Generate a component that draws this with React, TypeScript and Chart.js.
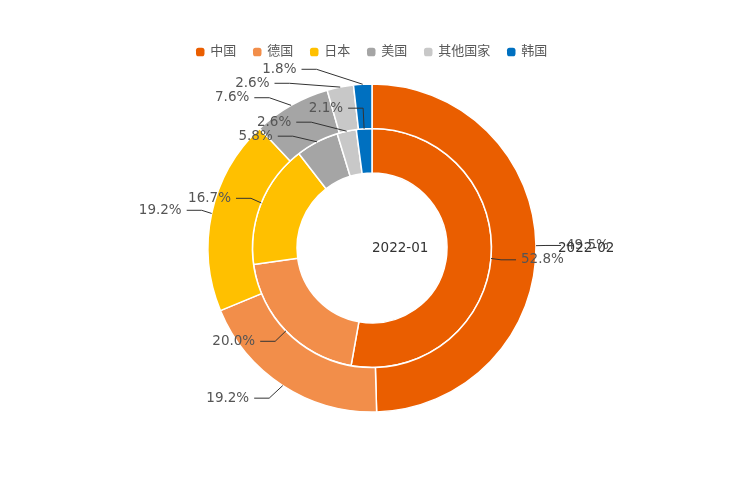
import React, { useEffect, useRef } from 'react';
import { Chart, registerables } from 'chart.js';

Chart.register(...registerables);

// ---- data ----
const categories = ['中国', '德国', '日本', '美国', '其他国家', '韩国'];
const share2022_01 = [52.8, 20.0, 16.7, 5.8, 2.6, 2.1]; // inner ring
const share2022_02 = [49.5, 19.2, 19.2, 7.6, 2.6, 1.8]; // outer ring
const innerName = '2022-01';
const outerName = '2022-02';
const colors = ['#EA5E00', '#F28E4A', '#FFC000', '#A5A5A5', '#C8C8C8', '#0070C0'];

const FONT = "'DejaVu Sans', 'Noto Sans CJK SC', sans-serif";
const LABEL_FONT_SIZE = 13.5;
const LINE_LEN = 15;
const LINE_LEN2 = 15;
const LABEL_DIST = 5;
const LABEL_H = 14;

type Item = {
  x: number;
  y: number;
  height: number;
  len: number;
  len2: number;
  pts: number[][];
  left: boolean;
  text: string;
};

function adjustSingleSide(list: Item[], cx: number, cy: number, r: number, dir: number, viewTop: number, viewHeight: number) {
  list.sort((a, b) => a.y - b.y);
  const shiftUp = (end: number, delta: number) => {
    for (let j = end; j >= 0; j--) {
      if (list[j].y - delta < viewTop) break;
      list[j].y -= delta;
      if (j > 0 && list[j].y > list[j - 1].y + list[j - 1].height) break;
    }
  };
  const shiftDown = (start: number, end: number, delta: number) => {
    for (let j = start; j < end; j++) {
      if (list[j].y + delta > viewTop + viewHeight) break;
      list[j].y += delta;
      if (j > start && j + 1 < end && list[j + 1].y > list[j].y + list[j].height) {
        shiftUp(j, delta / 2);
        return;
      }
    }
    shiftUp(end - 1, delta / 2);
  };
  const changeX = (sub: Item[], isDown: boolean) => {
    let last = isDown ? Number.MAX_VALUE : 0;
    for (const it of sub) {
      const dy = Math.abs(it.y - cy);
      const R = r + it.len + it.len2;
      let dx = dy < r + it.len ? Math.sqrt(R * R - dy * dy) : Math.abs(it.x - cx);
      if (isDown && dx >= last) dx = last - 10;
      if (!isDown && dx <= last) dx = last + 10;
      it.x = cx + dx * dir;
      last = dx;
    }
  };
  let lastY = 0;
  for (let i = 0; i < list.length; i++) {
    const delta = list[i].y - lastY;
    if (delta < 0) shiftDown(i, list.length, -delta);
    lastY = list[i].y + list[i].height;
  }
  if (viewHeight - lastY < 0) shiftUp(list.length - 1, lastY - viewHeight);
  changeX(list.filter((it) => it.y < cy), false);
  changeX(list.filter((it) => it.y >= cy), true);
}

const pieLabelPlugin = {
  id: 'pieLabels',
  afterDatasetsDraw(chart: any) {
    const ctx: CanvasRenderingContext2D = chart.ctx;
    let centerY = 0;
    chart.data.datasets.forEach((ds: any, di: number) => {
      const meta = chart.getDatasetMeta(di);
      const items: Item[] = [];
      let cx = 0, cy = 0, r = 0;
      meta.data.forEach((arc: any, i: number) => {
        const p = arc.getProps(['x', 'y', 'startAngle', 'endAngle', 'outerRadius'], true);
        cx = p.x; cy = p.y; r = p.outerRadius;
        const mid = (p.startAngle + p.endAngle) / 2;
        const dx = Math.cos(mid);
        const dy = Math.sin(mid);
        const x1 = cx + r * dx, y1 = cy + r * dy;
        const x2 = x1 + dx * LINE_LEN, y2 = y1 + dy * LINE_LEN;
        const x3 = x2 + (dx < 0 ? -1 : 1) * LINE_LEN2, y3 = y2;
        items.push({
          x: x3 + (dx < 0 ? -LABEL_DIST : LABEL_DIST),
          y: y3,
          height: LABEL_H,
          len: LINE_LEN,
          len2: LINE_LEN2,
          pts: [[x1, y1], [x2, y2], [x3, y3]],
          left: dx < 0,
          text: Number(ds.data[i]).toFixed(1) + '%',
        });
      });
      centerY = cy;
      const leftList = items.filter((it) => it.x < cx);
      const rightList = items.filter((it) => it.x >= cx);
      adjustSingleSide(rightList, cx, cy, r, 1, 0, chart.height);
      adjustSingleSide(leftList, cx, cy, r, -1, 0, chart.height);
      for (const it of items) {
        const dist = it.pts[1][0] - it.pts[2][0];
        it.pts[2][0] = it.x < cx ? it.x + LABEL_DIST : it.x - LABEL_DIST;
        it.pts[1][0] = it.pts[2][0] + dist;
        it.pts[1][1] = it.pts[2][1] = it.y;
      }
      ctx.save();
      ctx.strokeStyle = '#333333';
      ctx.lineWidth = 1;
      for (const it of items) {
        ctx.beginPath();
        ctx.moveTo(it.pts[0][0], it.pts[0][1]);
        ctx.lineTo(it.pts[1][0], it.pts[1][1]);
        ctx.lineTo(it.pts[2][0], it.pts[2][1]);
        ctx.stroke();
      }
      ctx.font = `${LABEL_FONT_SIZE}px ${FONT}`;
      ctx.fillStyle = '#555555';
      ctx.textBaseline = 'middle';
      for (const it of items) {
        ctx.textAlign = it.x < cx ? 'right' : 'left';
        ctx.fillText(it.text, it.x, it.y);
      }
      ctx.restore();
    });
    // ring titles
    ctx.save();
    ctx.font = `${LABEL_FONT_SIZE}px ${FONT}`;
    ctx.fillStyle = '#333333';
    ctx.textBaseline = 'middle';
    ctx.textAlign = 'left';
    ctx.fillText(innerName, chart.width * 0.5, centerY);
    ctx.fillText(outerName, chart.width * 0.75, centerY);
    ctx.restore();
  },
};

export default function App() {
  const ref = useRef<HTMLCanvasElement>(null);
  useEffect(() => {
    document.body.style.margin = '0';
    const canvas = ref.current;
    if (!canvas) return;
    Chart.defaults.font.family = FONT;
    const chart = new Chart(canvas, {
      type: 'doughnut',
      data: {
        labels: categories,
        datasets: [
          {
            label: outerName,
            data: share2022_02,
            backgroundColor: colors,
            borderColor: '#ffffff',
            borderWidth: 1.5,
          },
          {
            label: innerName,
            data: share2022_01,
            backgroundColor: colors,
            borderColor: '#ffffff',
            borderWidth: 1.5,
          },
        ],
      },
      options: {
        responsive: false,
        animation: false,
        events: [],
        radius: 164,
        cutout: '45.73%',
        layout: { padding: { top: 28, bottom: 68.5, left: 0, right: 0 } },
        plugins: {
          legend: {
            display: true,
            position: 'top',
            labels: {
              usePointStyle: true,
              pointStyle: 'rectRounded',
              boxWidth: 7,
              boxHeight: 7,
              padding: 17.5,
              color: '#595959',
              font: { size: 13, family: FONT },
              generateLabels: (c: any) =>
                (Chart as any).overrides.doughnut.plugins.legend.labels
                  .generateLabels(c)
                  .map((l: any) => ({ ...l, lineWidth: 0 })),
            },
          },
          tooltip: { enabled: false },
        },
      } as any,
      plugins: [pieLabelPlugin],
    });
    return () => chart.destroy();
  }, []);
  return (
    <div style={{ width: 744, height: 496 }}>
      <canvas ref={ref} width={744} height={496} style={{ display: 'block' }} />
    </div>
  );
}
